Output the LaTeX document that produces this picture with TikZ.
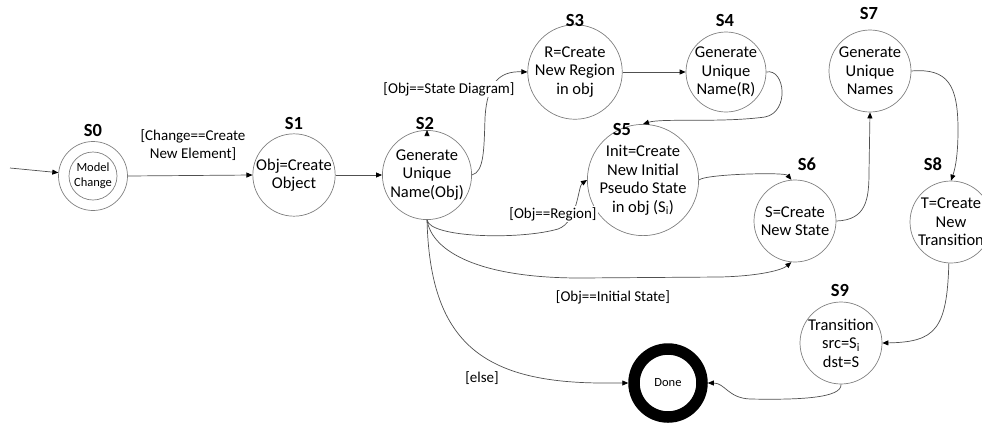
\documentclass[tikz,border=0pt]{standalone}
\usepackage{fontspec}
\setmainfont{Carlito}
\usetikzlibrary{arrows.meta}
\definecolor{circgray}{HTML}{808080}
\definecolor{linegray}{HTML}{505050}
\newcommand{\subidx}{\textsubscript{i}}
\begin{document}
\begin{tikzpicture}[x=1pt,y=-1pt,
  state/.style={circle,draw=circgray,line width=0.7pt,inner sep=0pt,align=center,
    font=\fontsize{16.5}{18.5}\selectfont,minimum size=82pt},
  tag/.style={font=\bfseries\fontsize{18.5}{18.5}\selectfont,inner sep=0pt},
  lbl/.style={font=\fontsize{15}{18.5}\selectfont,align=center,inner sep=1pt},
  conn/.style={draw=linegray,line width=0.7pt,-{Triangle[length=6pt,width=5pt,color=black]}},
]
\useasboundingbox (0,0) rectangle (982,424);

% states
\node[state,minimum size=69pt] (s0) at (93,176) {};
\node[state,minimum size=48pt,font=\fontsize{12.5}{15}\selectfont] (s0in) at (93,176) {Model\\Change};
\node[state] (s1) at (294,175) {Obj=Create\\Object};
\node[state] (s2) at (427,175) {Generate\\Unique\\Name(Obj)};
\node[state,minimum size=80pt] (s3) at (575,72) {R=Create\\New Region\\in obj};
\node[state,minimum size=80pt] (s4) at (726,72) {Generate\\Unique\\Name(R)};
\node[state,minimum size=89pt] (s5) at (643,180) {Init=Create\\New Initial\\Pseudo State\\in obj (S\subidx)};
\node[state] (s6) at (795,221) {S=Create\\New State};
\node[state] (s7) at (870,71) {Generate\\Unique\\Names};
\node[state] (s8) at (951,222) {T=Create\\New\\Transition};
\node[state] (s9) at (841,343) {Transition\\src=S\subidx\\dst=S};
\node[circle,draw=black,line width=11.5pt,minimum size=68pt,inner sep=0pt,
  font=\fontsize{12.5}{15}\selectfont] (done) at (668,383) {Done};

% state tags
\node[tag] (t0) at (93,130) {S0};
\node[tag] (t1) at (294,123) {S1};
\node[tag] (t2) at (425,123) {S2};
\node[tag] (t3) at (575,20) {S3};
\node[tag] (t4) at (725,20) {S4};
\node[tag] (t5) at (622,129) {S5};
\node[tag] (t6) at (807,164) {S6};
\node[tag] (t7) at (869,13) {S7};
\node[tag] (t8) at (933,164) {S8};
\node[tag] (t9) at (840,290) {S9};

% transitions
\coordinate (start) at (10,168);
\draw[conn] (start) -- (s0);
\draw[conn] (s0.east) -- (s1.west);
\draw[conn] (s1.east) -- (s2.west);
\draw[conn] ([yshift=-3pt]s2.north) -- (s2.north);
\draw[conn] (s2.east) .. controls (484,172) and (484,150) .. (485,118)
  .. controls (487,82) and (500,71) .. (s3.west);
\draw[conn] (s3.east) -- (s4.west);
\draw[conn] (s4.east) .. controls (785,68) and (790,112) .. (765,117)
  .. controls (720,123) and (662,118) .. (s5.north);
\draw[conn] (s2.south) .. controls (430,238) and (520,240) .. (558,229)
  .. controls (578,222) and (578,186) .. (s5.west);
\draw[conn] (s2.south) .. controls (432,252) and (480,278) .. (580,278)
  -- (720,277) .. controls (760,276) and (782,270) .. (s6.-95);
\draw[conn] (s2.south) .. controls (430,340) and (480,382) .. (600,383) -- (done.west);
\draw[conn] (s5.east) .. controls (705,174) and (785,172) .. (s6.95);
\draw[conn] (s6.east) .. controls (866,220) and (869,200) .. (869,172) -- (s7.south);
\draw[conn] (s7.east) .. controls (948,68) and (958,85) .. (958,130)
  .. controls (958,160) and (954,172) .. (s8.north);
\draw[conn] (s8.-93) .. controls (947,330) and (935,342) .. (s9.east);
\draw[conn] (s9.south) .. controls (842,398) and (800,400) .. (750,399)
  .. controls (728,398) and (725,383) .. (done.east);

% guard labels
\node[lbl] (g1) at (193,145) {[Change==Create\\New Element]};
\node[lbl,fill=white] (g2) at (449,89) {[Obj==State Diagram]};
\node[lbl,fill=white] (g3) at (553,214) {[Obj==Region]};
\node[lbl] (g4) at (613,297) {[Obj==Initial State]};
\node[lbl] (g5) at (482,378) {[else]};
\end{tikzpicture}
\end{document}
